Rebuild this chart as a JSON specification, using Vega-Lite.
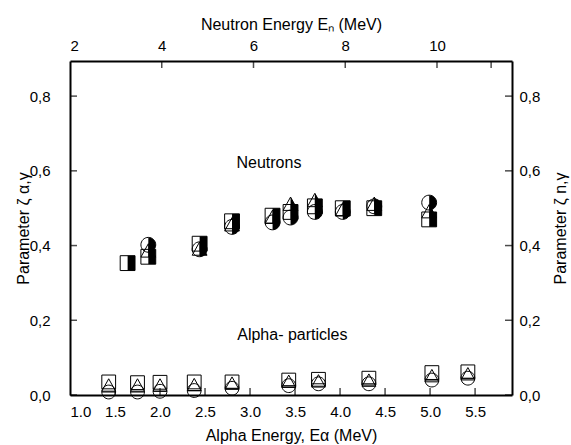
{
  "$schema": "https://vega.github.io/schema/vega-lite/v6.json",
  "width": 442,
  "height": 334,
  "autosize": "none",
  "padding": {"left": 70, "top": 61, "right": 59, "bottom": 50},
  "background": "white",
  "config": {
    "view": {"stroke": null},
    "font": "Liberation Sans",
    "axis": {
      "domainColor": "black", "domainWidth": 2, "ticks": false, "tickSize": 0,
      "labelColor": "black", "labelFontSize": 15, "labelFont": "Liberation Sans",
      "titleColor": "black", "titleFontSize": 16, "titleFontWeight": "normal", "titleFont": "Liberation Sans",
      "grid": false
    },
    "tick": {"color": "black", "thickness": 1.5, "size": 7}
  },
  "datasets": {
    "neutrons": [
      {"Ea": 1.64, "series": "sq", "Z": 0.353},
      {"Ea": 1.87, "series": "sq", "Z": 0.37},
      {"Ea": 1.87, "series": "tr", "Z": 0.385},
      {"Ea": 1.87, "series": "ci", "Z": 0.402},
      {"Ea": 2.44, "series": "ci", "Z": 0.39},
      {"Ea": 2.44, "series": "tr", "Z": 0.39},
      {"Ea": 2.44, "series": "sq", "Z": 0.405},
      {"Ea": 2.8, "series": "ci", "Z": 0.45},
      {"Ea": 2.8, "series": "tr", "Z": 0.455},
      {"Ea": 2.8, "series": "sq", "Z": 0.465},
      {"Ea": 3.25, "series": "ci", "Z": 0.462},
      {"Ea": 3.25, "series": "tr", "Z": 0.475},
      {"Ea": 3.25, "series": "sq", "Z": 0.48},
      {"Ea": 3.45, "series": "ci", "Z": 0.475},
      {"Ea": 3.45, "series": "sq", "Z": 0.49},
      {"Ea": 3.45, "series": "tr", "Z": 0.51},
      {"Ea": 3.72, "series": "ci", "Z": 0.49},
      {"Ea": 3.72, "series": "sq", "Z": 0.505},
      {"Ea": 3.72, "series": "tr", "Z": 0.52},
      {"Ea": 4.03, "series": "ci", "Z": 0.49},
      {"Ea": 4.03, "series": "tr", "Z": 0.495},
      {"Ea": 4.03, "series": "sq", "Z": 0.5},
      {"Ea": 4.38, "series": "sq", "Z": 0.5},
      {"Ea": 4.38, "series": "ci", "Z": 0.505},
      {"Ea": 4.38, "series": "tr", "Z": 0.51},
      {"Ea": 4.99, "series": "sq", "Z": 0.47},
      {"Ea": 4.99, "series": "tr", "Z": 0.49},
      {"Ea": 4.99, "series": "ci", "Z": 0.515}
    ],
    "alphas": [
      {"Ea": 1.43, "series": "ci", "Z": 0.008}, {"Ea": 1.43, "series": "tr", "Z": 0.025}, {"Ea": 1.43, "series": "sq", "Z": 0.035},
      {"Ea": 1.75, "series": "ci", "Z": 0.008}, {"Ea": 1.75, "series": "tr", "Z": 0.025}, {"Ea": 1.75, "series": "sq", "Z": 0.033},
      {"Ea": 2.0, "series": "ci", "Z": 0.01}, {"Ea": 2.0, "series": "tr", "Z": 0.025}, {"Ea": 2.0, "series": "sq", "Z": 0.034},
      {"Ea": 2.38, "series": "ci", "Z": 0.012}, {"Ea": 2.38, "series": "tr", "Z": 0.026}, {"Ea": 2.38, "series": "sq", "Z": 0.035},
      {"Ea": 2.8, "series": "ci", "Z": 0.018}, {"Ea": 2.8, "series": "tr", "Z": 0.03}, {"Ea": 2.8, "series": "sq", "Z": 0.035},
      {"Ea": 3.43, "series": "ci", "Z": 0.025}, {"Ea": 3.43, "series": "tr", "Z": 0.035}, {"Ea": 3.43, "series": "sq", "Z": 0.04},
      {"Ea": 3.76, "series": "ci", "Z": 0.03}, {"Ea": 3.76, "series": "tr", "Z": 0.036}, {"Ea": 3.76, "series": "sq", "Z": 0.042},
      {"Ea": 4.32, "series": "ci", "Z": 0.03}, {"Ea": 4.32, "series": "tr", "Z": 0.038}, {"Ea": 4.32, "series": "sq", "Z": 0.045},
      {"Ea": 5.02, "series": "ci", "Z": 0.04}, {"Ea": 5.02, "series": "tr", "Z": 0.05}, {"Ea": 5.02, "series": "sq", "Z": 0.06},
      {"Ea": 5.42, "series": "ci", "Z": 0.045}, {"Ea": 5.42, "series": "tr", "Z": 0.055}, {"Ea": 5.42, "series": "sq", "Z": 0.062}
    ],
    "labels": [
      {"text": "Neutrons", "Ea": 3.21, "Z": 0.62},
      {"text": "Alpha- particles", "Ea": 3.47, "Z": 0.16}
    ],
    "frame": [
      {"En": 2, "Z": 0},
      {"En": 11.635, "Z": 0.894}
    ],
    "xticks": [{"v": 1.5}, {"v": 2.0}, {"v": 2.5}, {"v": 3.0}, {"v": 3.5}, {"v": 4.0}, {"v": 4.5}, {"v": 5.0}, {"v": 5.5}],
    "yticks": [{"v": 0.0}, {"v": 0.2}, {"v": 0.4}, {"v": 0.6}, {"v": 0.8}],
    "topticks": [{"v": 4}, {"v": 6}, {"v": 8}, {"v": 10}, {"v": 11.18}]
  },
  "layer": [
    {
      "resolve": {"scale": {"shape": "independent"}},
      "layer": [
        {
          "data": {"name": "alphas"},
          "mark": {"type": "point", "filled": false, "stroke": "black", "strokeWidth": 1, "size": 190, "opacity": 1},
          "encoding": {
            "x": {"field": "Ea", "type": "quantitative", "scale": {"domain": [1, 5.91], "nice": false, "zero": false},
              "axis": {"orient": "bottom", "values": [1, 1.5, 2, 2.5, 3, 3.5, 4, 4.5, 5, 5.5], "format": ".1f", "labelPadding": 9, "title": "Alpha Energy, Eα (MeV)", "titlePadding": 8}},
            "y": {"field": "Z", "type": "quantitative", "scale": {"domain": [0, 0.894], "nice": false, "zero": false},
              "axis": {"orient": "left", "values": [0, 0.2, 0.4, 0.6, 0.8], "labelExpr": "replace(format(datum.value, '.1f'), '.', ',')", "labelPadding": 20, "title": "Parameter ζ α,γ", "titlePadding": -2}},
            "shape": {"field": "series", "type": "nominal", "legend": null,
              "scale": {"domain": ["sq", "tr", "ci"], "range": ["M-1,-1H1V1H-1Z", "M0,-1L1,0.8H-1Z", "M-1,0A1,1 0 1,1 1,0A1,1 0 1,1 -1,0ZM-1,0H1"]}}
          }
        },
        {
          "data": {"name": "neutrons"},
          "mark": {"type": "point", "filled": false, "stroke": "black", "strokeWidth": 1, "size": 220, "opacity": 1},
          "encoding": {
            "x": {"field": "Ea", "type": "quantitative"},
            "y": {"field": "Z", "type": "quantitative"},
            "shape": {"field": "series", "type": "nominal", "legend": null,
              "scale": {"domain": ["sq", "tr", "ci"], "range": ["M-1,-1H1V1H-1Z", "M0,-1L1,0.8H-1Z", "M-1,0A1,1 0 1,1 1,0A1,1 0 1,1 -1,0Z"]}}
          }
        },
        {
          "data": {"name": "neutrons"},
          "mark": {"type": "point", "filled": true, "fill": "black", "strokeWidth": 0, "size": 220, "opacity": 1},
          "encoding": {
            "x": {"field": "Ea", "type": "quantitative"},
            "y": {"field": "Z", "type": "quantitative"},
            "shape": {"field": "series", "type": "nominal", "legend": null,
              "scale": {"domain": ["sq", "tr", "ci"], "range": ["M0,-1H1V1H0Z", "M0,-1L1,0.8H0Z", "M0,-1A1,1 0 0,1 0,1Z"]}}
          }
        },
        {
          "data": {"name": "labels"},
          "mark": {"type": "text", "fontSize": 16, "font": "Liberation Sans", "color": "black"},
          "encoding": {
            "x": {"field": "Ea", "type": "quantitative"},
            "y": {"field": "Z", "type": "quantitative"},
            "text": {"field": "text"}
          }
        },
        {
          "data": {"name": "xticks"},
          "mark": {"type": "tick", "orient": "vertical", "yOffset": -3.5},
          "encoding": {
            "x": {"field": "v", "type": "quantitative"},
            "y": {"datum": 0, "type": "quantitative"}
          }
        },
        {
          "data": {"name": "yticks"},
          "mark": {"type": "tick", "orient": "horizontal", "xOffset": 3.5},
          "encoding": {
            "x": {"datum": 1, "type": "quantitative"},
            "y": {"field": "v", "type": "quantitative"}
          }
        },
        {
          "data": {"name": "yticks"},
          "mark": {"type": "tick", "orient": "horizontal", "xOffset": -3.5},
          "encoding": {
            "x": {"datum": 5.91, "type": "quantitative"},
            "y": {"field": "v", "type": "quantitative"}
          }
        }
      ]
    },
    {
      "layer": [
        {
          "data": {"name": "frame"},
          "mark": {"type": "point", "opacity": 0},
          "encoding": {
            "x": {"field": "En", "type": "quantitative", "scale": {"domain": [2, 11.635], "nice": false, "zero": false},
              "axis": {"orient": "top", "values": [2, 4, 6, 8, 10], "format": "d", "labelPadding": 8, "title": "Neutron Energy Eₙ (MeV)", "titlePadding": 6}},
            "y": {"field": "Z", "type": "quantitative", "scale": {"domain": [0, 0.894], "nice": false, "zero": false},
              "axis": {"orient": "right", "values": [0, 0.2, 0.4, 0.6, 0.8], "labelExpr": "replace(format(datum.value, '.1f'), '.', ',')", "labelPadding": 7, "title": "Parameter ζ n,γ", "titleAngle": 270, "titlePadding": 29}}
          }
        },
        {
          "data": {"name": "topticks"},
          "mark": {"type": "tick", "orient": "vertical", "yOffset": 3.5},
          "encoding": {
            "x": {"field": "v", "type": "quantitative"},
            "y": {"datum": 0.894, "type": "quantitative"}
          }
        }
      ]
    }
  ],
  "resolve": {"scale": {"x": "independent", "y": "independent"}}
}
